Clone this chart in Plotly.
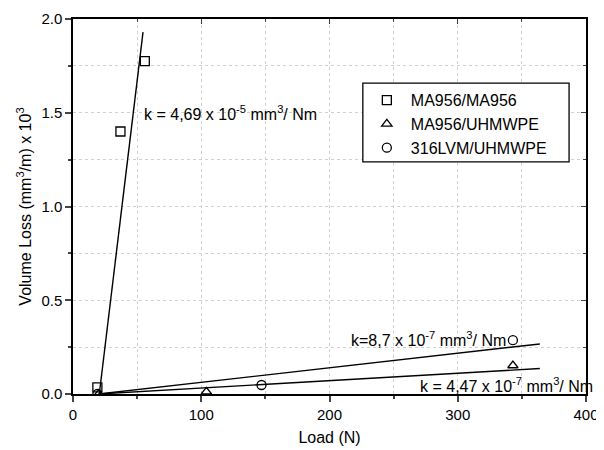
import plotly.graph_objects as go

# Data
ma_ma_load = [19, 37, 56]
ma_ma_loss = [0.035, 1.40, 1.775]
ma_uh_load = [20, 104, 343]
ma_uh_loss = [0.0, 0.012, 0.152]
ss_uh_load = [19, 147, 343]
ss_uh_loss = [0.0, 0.048, 0.287]

# Fit lines (endpoints)
fit_ma_ma_x = [20.5, 54.6]
fit_ma_ma_y = [0.0, 1.93]
fit_ss_uh_x = [20, 364]
fit_ss_uh_y = [0.0, 0.267]
fit_ma_uh_x = [20, 364]
fit_ma_uh_y = [0.0, 0.136]

FONT = "Liberation Sans"

fig = go.Figure()

for fx, fy in [(fit_ma_ma_x, fit_ma_ma_y), (fit_ss_uh_x, fit_ss_uh_y), (fit_ma_uh_x, fit_ma_uh_y)]:
    fig.add_trace(go.Scatter(x=fx, y=fy, mode="lines", line=dict(color="black", width=1.4),
                             showlegend=False, hoverinfo="skip"))

mk = dict(color="black", size=9, line=dict(color="black", width=1.3))
fig.add_trace(go.Scatter(x=ma_ma_load, y=ma_ma_loss, mode="markers", name="MA956/MA956",
                         marker=dict(symbol="square-open", **mk)))
fig.add_trace(go.Scatter(x=ma_uh_load, y=ma_uh_loss, mode="markers", name="MA956/UHMWPE",
                         marker=dict(symbol="triangle-up-open", **mk)))
fig.add_trace(go.Scatter(x=ss_uh_load, y=ss_uh_loss, mode="markers", name="316LVM/UHMWPE",
                         marker=dict(symbol="circle-open", **mk)))

# invisible trace for the mirrored (top/right) axes
fig.add_trace(go.Scatter(x=[0], y=[0], xaxis="x2", yaxis="y2", mode="markers",
                         marker=dict(opacity=0), showlegend=False, hoverinfo="skip"))

ann_font = dict(family=FONT, size=16, color="black")
fig.add_annotation(x=54, y=1.50, text="k = 4,69 x 10<sup>-5</sup> mm<sup>3</sup>/ Nm",
                   showarrow=False, xanchor="left", yanchor="middle", font=ann_font)
fig.add_annotation(x=215, y=0.296, text="k=8,7 x 10<sup>-7</sup> mm<sup>3</sup>/ Nm",
                   showarrow=False, xanchor="left", yanchor="middle", font=ann_font)
fig.add_annotation(x=269, y=0.047, text="k = 4,47 x 10<sup>-7</sup> mm<sup>3</sup>/ Nm",
                   showarrow=False, xanchor="left", yanchor="middle", font=ann_font)

# legend frame (wider than plotly's auto-sized box)
fig.add_shape(type="rect", xref="paper", yref="paper", x0=0.565, x1=0.967, y0=0.619, y1=0.829,
              line=dict(color="black", width=1.3), fillcolor="white", layer="above")

GRIDC = "#d0d0d0"
grid = dict(showgrid=True, gridcolor=GRIDC, griddash="dot", gridwidth=1)

fig.update_layout(
    width=604, height=450,
    margin=dict(l=65, r=26, t=11, b=64),
    paper_bgcolor="white", plot_bgcolor="white",
    font=dict(family=FONT, size=15, color="black"),
    xaxis=dict(range=[0, 400], dtick=100, ticks="outside", ticklen=6, tickwidth=1.5,
               showline=True, linecolor="black", linewidth=1.5, zeroline=False, automargin=False,
               title=dict(text="Load (N)", font=dict(size=16), standoff=10),
               minor=dict(dtick=50, ticks="outside", ticklen=3, showgrid=True,
                          gridcolor=GRIDC, griddash="dot"),
               **grid),
    yaxis=dict(range=[0, 2.0], dtick=0.5, tickformat=".1f", ticks="outside", ticklen=6, tickwidth=1.5,
               showline=True, linecolor="black", linewidth=1.5, zeroline=False, automargin=False,
               title=dict(text="Volume Loss (mm<sup>3</sup>/m) x 10<sup>3</sup>", font=dict(size=16), standoff=6),
               minor=dict(dtick=0.25, ticks="outside", ticklen=3, showgrid=True,
                          gridcolor=GRIDC, griddash="dot"),
               **grid),
    xaxis2=dict(range=[0, 400], overlaying="x", side="top", dtick=100, ticks="inside", ticklen=5,
                showticklabels=False, showline=True, linecolor="black", linewidth=1.5,
                showgrid=False, zeroline=False, automargin=False,
                minor=dict(dtick=50, ticks="inside", ticklen=3)),
    yaxis2=dict(range=[0, 2.0], overlaying="y", side="right", dtick=0.5, ticks="inside", ticklen=5,
                showticklabels=False, showline=True, linecolor="black", linewidth=1.5,
                showgrid=False, zeroline=False, automargin=False,
                minor=dict(dtick=0.25, ticks="inside", ticklen=3)),
    legend=dict(x=0.565, y=0.829, xanchor="left", yanchor="top",
                borderwidth=0, bgcolor="rgba(0,0,0,0)",
                font=dict(size=16), itemwidth=38),
    showlegend=True,
)

fig.write_html("out.html")
